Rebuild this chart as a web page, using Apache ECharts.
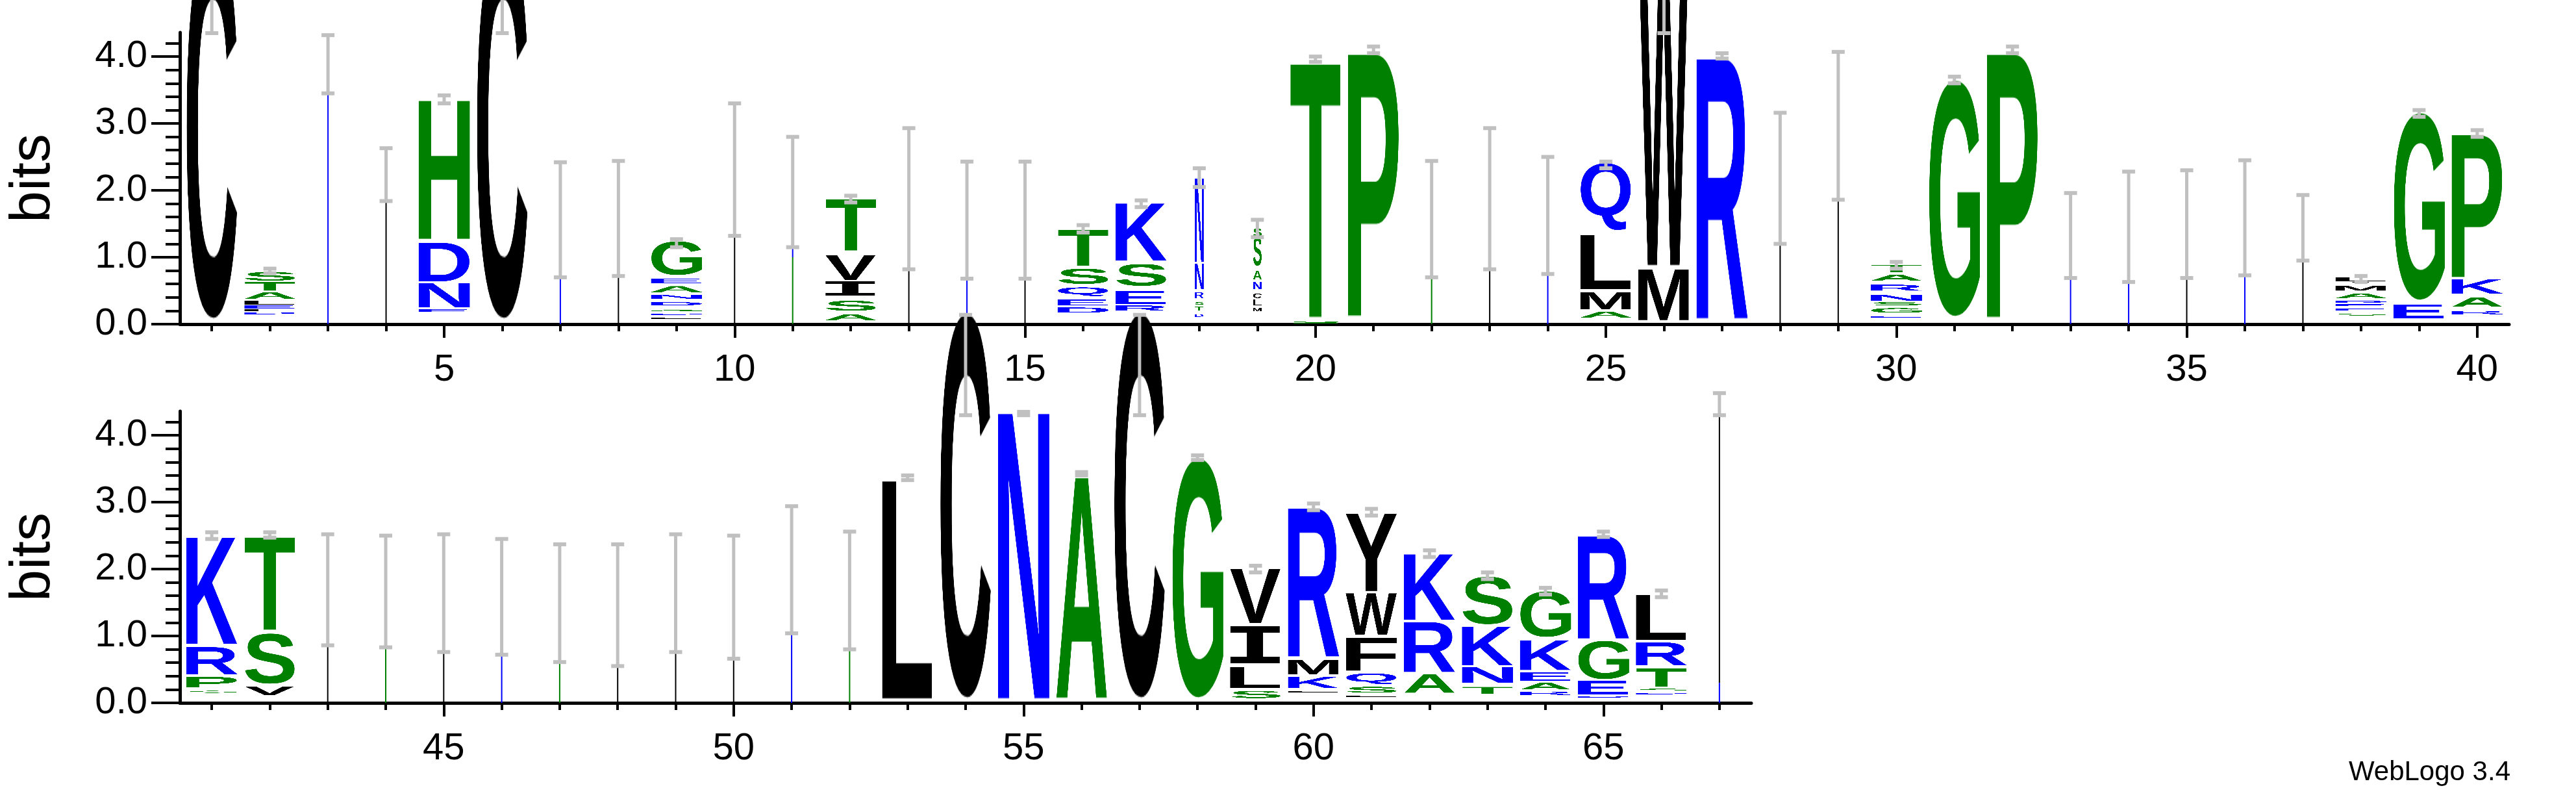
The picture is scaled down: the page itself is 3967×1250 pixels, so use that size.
<!DOCTYPE html>
<html>
<head>
<meta charset="utf-8">
<title>WebLogo</title>
<script src="https://cdn.jsdelivr.net/npm/echarts@6/dist/echarts.min.js"></script>
<style>html,body{margin:0;padding:0;background:#fff}</style>
</head>
<body>
<div id="main" style="width:3967px;height:1250px;"></div>
<script>
// letter stacks per position 1..67: [letter, bottom bits, top bits]
var stacks = [
  [['C',0.04,5.8]],
  [['D',0.15,0.18],['L',0.19,0.22],['E',0.23,0.28],['L',0.29,0.35],['A',0.38,0.48],['T',0.5,0.63],['S',0.65,0.78]],
  [], [],
  [['E',0.18,0.22],['N',0.25,0.62],['D',0.64,1.23],['H',1.27,3.38]],
  [['C',0.04,5.8]],
  [], [],
  [['L',0.08,0.1],['D',0.14,0.16],['G',0.19,0.21],['D',0.28,0.33],['N',0.38,0.44],['A',0.48,0.57],['E',0.61,0.68],['G',0.73,1.24]],
  [], [],
  [['A',0.06,0.15],['S',0.2,0.35],['I',0.43,0.64],['V',0.66,1.04],['T',1.1,1.88]],
  [], [], [],
  [['D',0.17,0.25],['E',0.28,0.37],['Q',0.42,0.55],['S',0.6,0.83],['T',0.87,1.42]],
  [['R',0.2,0.28],['E',0.3,0.5],['S',0.57,0.9],['K',0.95,1.82]],
  [['D',0.11,0.15],['T',0.2,0.26],['S',0.29,0.33],['R',0.39,0.48],['N',0.52,0.91],['N',0.93,2.2]],
  [['M',0.19,0.24],['L',0.28,0.37],['C',0.39,0.46],['N',0.52,0.63],['A',0.67,0.8],['S',0.87,1.31],['S',1.31,1.43]],
  [['S',0.01,0.04],['T',0.1,3.96]],
  [['P',0.12,4.11]],
  [], [], [],
  [['A',0.1,0.19],['M',0.22,0.48],['L',0.52,1.35],['Q',1.4,2.41]],
  [['M',0.06,0.83],['W',0.87,5.9]],
  [['R',0.08,4.04]],
  [], [],
  [['E',0.1,0.12],['G',0.17,0.24],['S',0.28,0.33],['N',0.35,0.44],['R',0.5,0.59],['A',0.65,0.74],['T',0.78,0.89]],
  [['G',0.09,3.66]],
  [['P',0.1,4.11]],
  [], [], [], [], [],
  [['S',0.13,0.16],['E',0.2,0.23],['E',0.27,0.3],['D',0.32,0.35],['A',0.39,0.46],['M',0.5,0.57],['I',0.62,0.63],['L',0.64,0.7]],
  [['E',0.09,0.3],['G',0.34,3.17]],
  [['R',0.15,0.2],['A',0.26,0.4],['K',0.46,0.67],['P',0.7,2.87]],
  [['S',0.15,0.18],['P',0.23,0.39],['R',0.43,0.84],['K',0.88,2.5]],
  [['V',0.12,0.25],['S',0.28,1.04],['T',1.09,2.5]],
  [], [], [], [], [], [], [], [], [], [],
  [['L',0.06,3.38]],
  [['C',0.03,5.85]],
  [['N',0.06,4.41]],
  [['A',0.07,3.43]],
  [['C',0.03,5.85]],
  [['G',0.05,3.67]],
  [['S',0.07,0.18],['L',0.22,0.54],['I',0.59,1.15],['V',1.19,2.02]],
  [['L',0.16,0.18],['K',0.22,0.39],['M',0.43,0.65],['R',0.69,2.95]],
  [['L',0.09,0.11],['S',0.15,0.24],['Q',0.28,0.44],['F',0.48,0.98],['W',1.02,1.65],['Y',1.67,2.85]],
  [['A',0.15,0.43],['R',0.46,1.22],['K',1.24,2.24]],
  [['T',0.14,0.24],['N',0.3,0.54],['K',0.56,1.15],['S',1.17,1.89]],
  [['R',0.12,0.17],['A',0.2,0.3],['E',0.33,0.46],['K',0.49,0.94],['G',0.98,1.67]],
  [['D',0.08,0.1],['E',0.13,0.33],['G',0.35,0.93],['R',0.96,2.52]],
  [['D',0.13,0.15],['S',0.18,0.21],['T',0.24,0.52],['R',0.56,0.91],['L',0.94,1.63]],
  []
];
// narrow stacks (positions with many gaps): [position, width in positions]
var narrowCols = [[18, 0.15], [19, 0.15]];
// hairline stacks at near-empty positions: [position, colour letter, from, to]
var rules = [
  [3,'N',0,3.85],[4,'L',0,2.3],[7,'N',0,1.55],[8,'L',0,1.6],[10,'L',0,2.3],
  [11,'S',0,1.0],[11,'N',1.0,2.0],[13,'L',0,1.9],[14,'N',0,1.55],[15,'L',0,1.55],
  [22,'S',0,1.55],[23,'L',0,1.9],[24,'N',0,1.6],[28,'L',0,2.2],[29,'L',0,2.9],
  [33,'N',0,1.4],[34,'N',0,1.4],[35,'L',0,1.5],[36,'N',0,1.5],[37,'L',0,1.4],
  [43,'L',0,1.7],[44,'S',0,1.7],[45,'L',0,1.65],[46,'N',0,1.6],[47,'S',0,1.5],
  [48,'L',0,1.5],[49,'L',0,1.65],[50,'L',0,1.6],[51,'N',0,2.0],[52,'S',0,1.7],
  [67,'N',0,0.3],[67,'L',0.3,4.3]
];
var errLo = [4.35,0.76,3.45,1.84,3.3,4.35,0.7,0.72,1.15,1.32,1.15,1.82,0.82,0.68,0.68,1.37,1.75,2.05,1.3,3.92,
  4.05,0.7,0.82,0.75,2.33,4.35,3.97,1.2,1.86,0.83,3.6,4.05,0.69,0.63,0.69,0.73,0.95,0.63,3.1,2.8,
  2.45,2.47,0.86,0.83,0.76,0.72,0.61,0.55,0.76,0.66,1.04,0.8,3.33,4.3,4.3,3.4,4.3,3.63,1.95,2.88,
  2.8,2.18,1.85,1.62,2.48,1.58,4.3];
var errHi = [5.5,0.83,4.32,2.63,3.42,5.5,2.42,2.44,1.27,3.3,2.8,1.92,2.93,2.43,2.43,1.48,1.85,2.33,1.56,4.0,
  4.15,2.44,2.93,2.5,2.43,5.5,4.05,3.16,4.07,0.93,3.7,4.15,1.96,2.28,2.3,2.45,1.93,0.72,3.2,2.9,
  2.55,2.55,2.52,2.5,2.52,2.45,2.37,2.37,2.52,2.5,2.94,2.56,3.4,5.8,4.35,3.45,5.8,3.7,2.05,2.98,
  2.9,2.28,1.95,1.72,2.56,1.68,4.63];
var yLabelTicks = [0, 1, 2, 3, 4];
var yMinorTicks = [0,0.2,0.4,0.6,0.8,1,1.2,1.4,1.6,1.8,2,2.2,2.4,2.6,2.8,3,3.2,3.4,3.6,3.8,4,4.2];
var xLabelsTop = [5, 10, 15, 20, 25, 30, 35, 40];
var xLabelsBottom = [45, 50, 55, 60, 65];

var GREEN = '#008000', BLUE = '#0000ff', BLACK = '#000000';
function letterColor(ch) {
  if ('GSTHAP'.indexOf(ch) >= 0) return GREEN;
  if ('DENQKR'.indexOf(ch) >= 0) return BLUE;
  return BLACK;
}

var glyphCache = {};
function glyph(ch) {
  if (glyphCache[ch]) return glyphCache[ch];
  // serifed I, like the logo's own
  var font = ch === 'I' ? 'bold 400px "DejaVu Sans Mono", monospace'
                        : 'bold 400px "Liberation Sans", Arial, sans-serif';
  var c = document.createElement('canvas');
  var ctx = c.getContext('2d');
  ctx.font = font;
  var m = ctx.measureText(ch);
  var l = m.actualBoundingBoxLeft, r = m.actualBoundingBoxRight;
  var a = m.actualBoundingBoxAscent, d = m.actualBoundingBoxDescent;
  c.width = Math.ceil(l + r);
  c.height = Math.ceil(a + d);
  ctx = c.getContext('2d');
  ctx.font = font;
  ctx.fillStyle = letterColor(ch);
  ctx.textBaseline = 'alphabetic';
  ctx.fillText(ch, l, a);
  glyphCache[ch] = c;
  return c;
}

var myChart = echarts.init(document.getElementById('main'));

function renderLogo(params, api) {
  var pos = api.value(0);
  var children = [];
  var half = 0.445;
  narrowCols.forEach(function (n) { if (n[0] === pos) half = n[1] / 2; });
  (stacks[pos - 1] || []).forEach(function (s) {
    var p0 = api.coord([pos - half, s[2]]);
    var p1 = api.coord([pos + half, s[1]]);
    children.push({
      type: 'image',
      style: { image: glyph(s[0]), x: p0[0], y: p0[1], width: p1[0] - p0[0], height: p1[1] - p0[1] }
    });
  });
  rules.forEach(function (r) {
    if (r[0] !== pos) return;
    var a = api.coord([pos, r[2]]), b = api.coord([pos, r[3]]);
    children.push({ type: 'line', shape: { x1: a[0], y1: a[1], x2: b[0], y2: b[1] },
      style: { stroke: letterColor(r[1]), lineWidth: 2 } });
  });
  var lo = api.coord([pos, errLo[pos - 1]]), hi = api.coord([pos, errHi[pos - 1]]);
  children.push({ type: 'line', shape: { x1: lo[0], y1: lo[1], x2: hi[0], y2: hi[1] },
    style: { stroke: '#c0c0c0', lineWidth: 5 } });
  [lo, hi].forEach(function (p) {
    children.push({ type: 'rect', shape: { x: p[0] - 10, y: p[1] - 3, width: 20, height: 6 },
      style: { fill: '#c0c0c0' } });
  });
  return { type: 'group', children: children };
}

function panelAxes(gi, xmin, xmax, majors) {
  var minors = [];
  for (var i = Math.ceil(xmin); i <= Math.floor(xmax); i++) minors.push(i);
  var xa = [{
    type: 'value', gridIndex: gi, min: xmin, max: xmax,
    axisLine: { show: true, onZero: false, lineStyle: { color: '#000', width: 5 } },
    axisTick: { show: true, customValues: minors, length: 11, lineStyle: { color: '#000', width: 4 } },
    axisLabel: { show: false }, splitLine: { show: false }
  }, {
    type: 'value', gridIndex: gi, min: xmin, max: xmax, position: 'bottom',
    axisLine: { show: false },
    axisTick: { show: true, customValues: majors, length: 21, lineStyle: { color: '#000', width: 4 } },
    axisLabel: { show: true, customValues: majors, fontSize: 58, margin: 42, color: '#000',
      fontFamily: 'Liberation Sans' },
    splitLine: { show: false }
  }];
  var ya = [{
    type: 'value', gridIndex: gi, min: 0, max: 4.36,
    name: 'bits', nameLocation: 'middle', nameGap: 181, nameRotate: 90,
    nameTextStyle: { fontSize: 88, color: '#000', fontFamily: 'Liberation Sans' },
    axisLine: { show: true, lineStyle: { color: '#000', width: 5 } },
    axisTick: { show: true, customValues: yLabelTicks, length: 44, lineStyle: { color: '#000', width: 4 } },
    axisLabel: { show: true, customValues: yLabelTicks, fontSize: 58, margin: 50, color: '#000',
      fontFamily: 'Liberation Sans', formatter: function (v) { return v.toFixed(1); } },
    splitLine: { show: false }
  }, {
    type: 'value', gridIndex: gi, min: 0, max: 4.36, position: 'left',
    axisLine: { show: false },
    axisTick: { show: true, customValues: yMinorTicks, length: 22, lineStyle: { color: '#000', width: 4 } },
    axisLabel: { show: false }, splitLine: { show: false }
  }];
  return { xa: xa, ya: ya };
}

var topAx = panelAxes(0, 0.45, 40.55, xLabelsTop);
var botAx = panelAxes(1, 40.45, 67.55, xLabelsBottom);

var topData = [], botData = [];
for (var p = 1; p <= 67; p++) (p <= 40 ? topData : botData).push([p]);

myChart.setOption({
  animation: false,
  grid: [
    { left: 263, top: 50, width: 3601, height: 449 },
    { left: 263, top: 633, width: 2434, height: 449 }
  ],
  xAxis: topAx.xa.concat(botAx.xa),
  yAxis: topAx.ya.concat(botAx.ya),
  graphic: [{
    type: 'text', right: 101, top: 1168,
    style: { text: 'WebLogo 3.4', fontSize: 42, fill: '#000', fontFamily: 'Liberation Sans' }
  }],
  series: [
    { type: 'custom', xAxisIndex: 0, yAxisIndex: 0, clip: false, renderItem: renderLogo, data: topData, z: 5 },
    { type: 'custom', xAxisIndex: 2, yAxisIndex: 2, clip: false, renderItem: renderLogo, data: botData, z: 5 }
  ]
});
</script>
</body>
</html>
